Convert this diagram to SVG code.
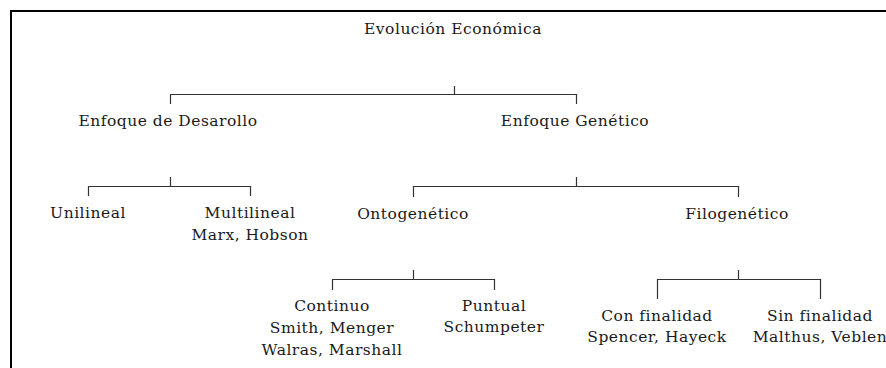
<svg xmlns="http://www.w3.org/2000/svg" width="886" height="368" viewBox="0 0 886 368">
<style>
text{font-family:"DejaVu Serif","Liberation Serif",serif;font-size:15.5px;letter-spacing:0.5px;fill:#1a1a1a;text-anchor:middle}
.c{fill:none;stroke:#333;stroke-width:1.2}
</style>
<rect x="0" y="0" width="886" height="368" fill="#fff"/>
<rect x="11" y="11" width="900" height="400" fill="none" stroke="#000" stroke-width="2"/>
<g id="connectors">
<path class="c" d="M454.5,86V94.5M170.5,104V94.5H576.5V104"/>
<path class="c" d="M170.5,177V186.5M88.5,196V186.5H250.5V196"/>
<path class="c" d="M576.5,177V186.5M413.5,197V186.5H738.5V197"/>
<path class="c" d="M413.5,270V279.5M332.5,290V279.5H494.5V290"/>
<path class="c" d="M738.5,270V279.5M657.5,299V279.5H820.5V299"/>
</g>
<g id="n-root"><text x="453" y="34">Evolución Económica</text></g>
<g id="n-desarrollo"><text x="168" y="126">Enfoque de Desarollo</text></g>
<g id="n-genetico"><text x="575" y="126">Enfoque Genético</text></g>
<g id="n-unilineal"><text x="88" y="218">Unilineal</text></g>
<g id="n-multilineal"><text x="250" y="218">Multilineal</text><text x="250" y="240">Marx, Hobson</text></g>
<g id="n-ontogenetico"><text x="413" y="219">Ontogenético</text></g>
<g id="n-filogenetico"><text x="737" y="219">Filogenético</text></g>
<g id="n-continuo"><text x="332" y="311">Continuo</text><text x="332" y="333">Smith, Menger</text><text x="332" y="355">Walras, Marshall</text></g>
<g id="n-puntual"><text x="494" y="311">Puntual</text><text x="494" y="332">Schumpeter</text></g>
<g id="n-con"><text x="657" y="321">Con finalidad</text><text x="657" y="342">Spencer, Hayeck</text></g>
<g id="n-sin"><text x="820" y="321">Sin finalidad</text><text x="820" y="342">Malthus, Veblen</text></g>
</svg>
